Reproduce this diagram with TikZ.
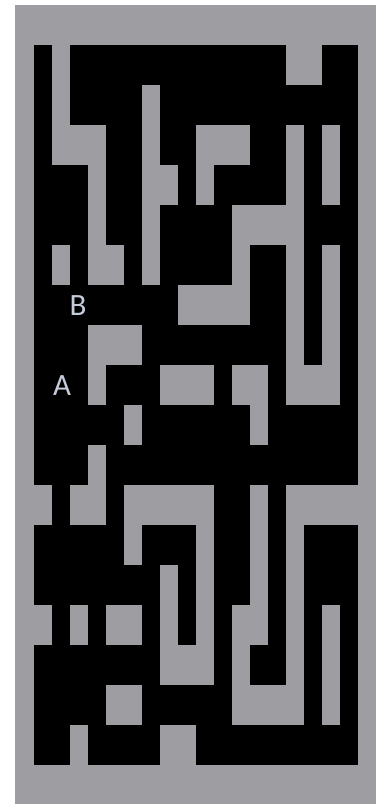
\documentclass[tikz,border=0pt]{standalone}
\usepackage{fontspec}
\newfontfamily\labfont{Carlito}
\definecolor{wallgray}{RGB}{158,157,161}
\definecolor{labcol}{RGB}{196,204,218}
\begin{document}
\begin{tikzpicture}[x=1pt,y=-1pt,
  pathcell/.style={fill=black},
  wallarea/.style={fill=wallgray},
  lab/.style={text=labcol,font=\labfont\fontsize{31}{31}\selectfont,inner sep=0pt}]
\useasboundingbox (0,0) rectangle (381,804);
\fill[white] (0,0) rectangle (381,804);
\fill[wallarea] (15,5) rectangle (376,804);
\foreach \r/\a/\b in {
  1/1/1, 1/3/14, 1/17/18,
  2/1/1, 2/3/6, 2/8/18,
  3/1/1, 3/5/6, 3/8/9, 3/13/14, 3/16/16, 3/18/18,
  4/1/3, 4/5/6, 4/9/9, 4/11/14, 4/16/16, 4/18/18,
  5/1/3, 5/5/6, 5/8/11, 5/16/18,
  6/1/1, 6/3/3, 6/6/6, 6/8/11, 6/13/14, 6/16/16, 6/18/18,
  7/1/8, 7/13/14, 7/16/16, 7/18/18,
  8/1/3, 8/7/14, 8/16/16, 8/18/18,
  9/1/3, 9/5/7, 9/11/11, 9/14/14, 9/18/18,
  10/1/5, 10/7/12, 10/14/18,
  11/1/3, 11/5/18,
  12/2/2, 12/5/5, 12/11/12, 12/14/14,
  13/1/5, 13/7/9, 13/11/12, 13/14/14, 13/16/18,
  14/1/7, 14/9/9, 14/11/12, 14/14/14, 14/16/18,
  15/2/2, 15/4/4, 15/7/7, 15/9/9, 15/11/11, 15/14/14, 15/16/16, 15/18/18,
  16/1/7, 16/11/11, 16/13/14, 16/16/16, 16/18/18,
  17/1/4, 17/7/11, 17/16/16, 17/18/18,
  18/1/2, 18/4/7, 18/10/18}
  \fill[pathcell] ({16+18*\a},{5+40*\r}) rectangle ({16+18*(\b+1)},{5+40*(\r+1)});
\node[lab] (B) at (78,306) {B};
\node[lab] (A) at (62,386) {A};
\end{tikzpicture}
\end{document}
